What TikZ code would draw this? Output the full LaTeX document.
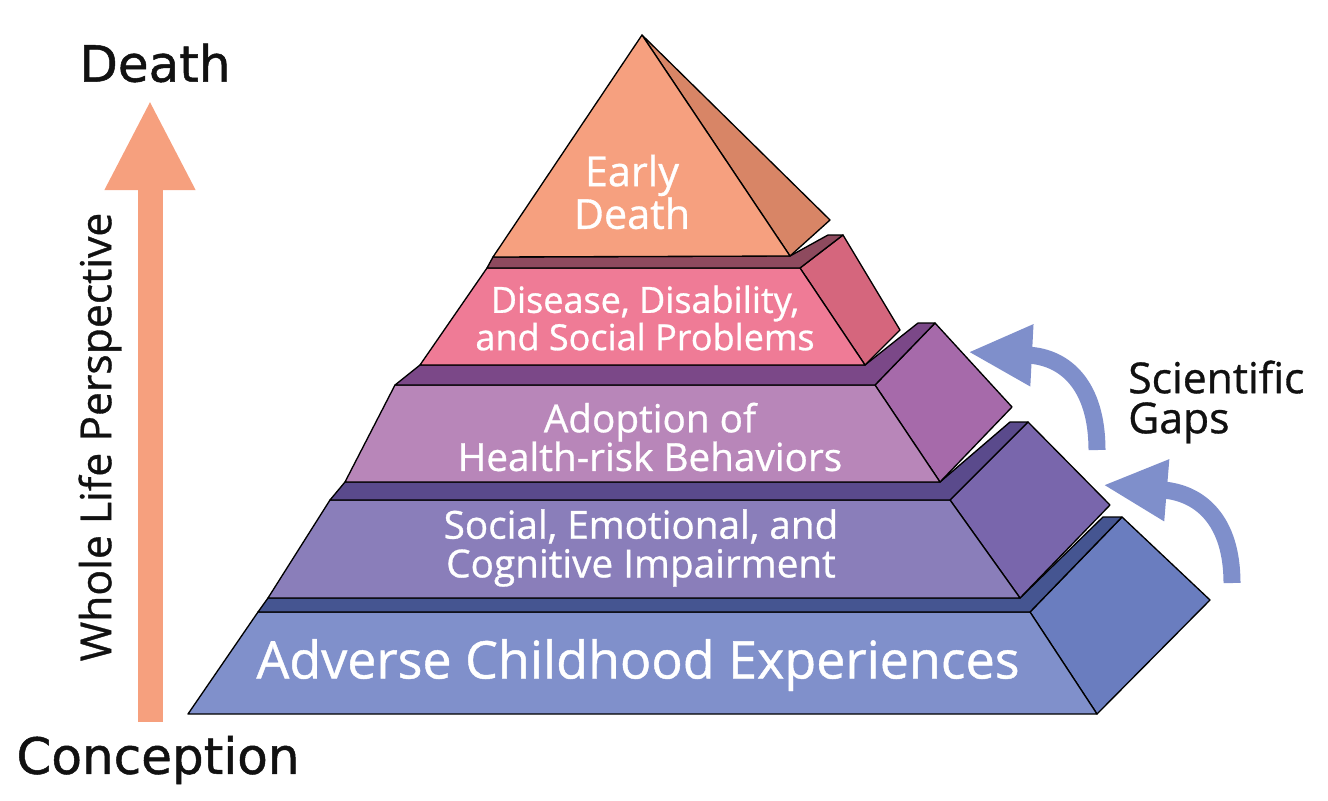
\documentclass[tikz,border=0pt]{standalone}
\usepackage{fontspec}
\setmainfont{Open Sans}
\newfontfamily\dejavu[FakeBold=1]{DejaVu Sans}
\newfontfamily\tierfont[FakeBold=0.8]{Open Sans}
\usetikzlibrary{arrows.meta}

\definecolor{aceFront}{HTML}{8090CB}
\definecolor{aceSide}{HTML}{6A7DBF}
\definecolor{aceTop}{HTML}{455591}
\definecolor{socFront}{HTML}{8A7EBA}
\definecolor{socSide}{HTML}{7966AC}
\definecolor{socTop}{HTML}{5A4A8C}
\definecolor{adoFront}{HTML}{B886B9}
\definecolor{adoSide}{HTML}{A66AAA}
\definecolor{adoTop}{HTML}{7B4888}
\definecolor{disFront}{HTML}{EF7B96}
\definecolor{disSide}{HTML}{D5667D}
\definecolor{disTop}{HTML}{8E4A5E}
\definecolor{edFront}{HTML}{F6A07F}
\definecolor{edSide}{HTML}{D88566}
\definecolor{lifeColor}{HTML}{F6A07E}
\definecolor{gapColor}{HTML}{7F8FCB}
\definecolor{inkColor}{HTML}{111111}

\begin{document}
\begin{tikzpicture}[
    x=0.75pt, y=-0.75pt,
    face/.style={draw=black, line width=1pt, line join=round},
    tiertext/.style={text=white, align=center, inner sep=0pt, font=\tierfont\fontsize{29}{29}\selectfont},
    sidelabel/.style={text=inkColor, inner sep=0pt, font=\dejavu\fontsize{37.5}{37.5}\selectfont},
    lifearrow/.style={draw=lifeColor, line width=18.75pt, -{Triangle[length=67.5pt, width=63pt]}},
    gaparrow/.style={draw=gapColor, line width=12.75pt, -{Triangle[length=48pt, width=43pt]}}
]
    \useasboundingbox (0,0) rectangle (1328,800);

    % left axis
    \node[sidelabel] (death) at (155,63) {Death};
    \node[sidelabel] (concep) at (158,760) {Conception};
    \coordinate (lifebot) at (150,722);
    \coordinate (lifetop) at (150,100);
    \draw[lifearrow] (lifebot) -- (lifetop);
    \node[rotate=90, text=inkColor, inner sep=0pt, font=\tierfont\fontsize{32}{32}\selectfont] (whole) at (100,437) {Whole Life Perspective};

    % bottom tier
    \path[face, fill=aceSide] (1030,612) -- (1122,517) -- (1210,600) -- (1097,714) -- cycle;
    \path[face, fill=aceFront] (258,612) -- (1030,612) -- (1097,714) -- (188,714) -- cycle;
    \path[face, fill=aceTop] (258,612) -- (1030,612) -- (1122,517) -- (1103,517) -- (1020,598) -- (268,598) -- cycle;

    % second tier
    \path[face, fill=socSide] (950,500) -- (1028,422) -- (1110,505) -- (1020,598) -- cycle;
    \path[face, fill=socFront] (330,500) -- (950,500) -- (1020,598) -- (268,598) -- cycle;
    \path[face, fill=socTop] (330,500) -- (950,500) -- (1028,422) -- (1010,422) -- (940,482) -- (345,482) -- cycle;

    % third tier
    \path[face, fill=adoSide] (875,385) -- (935,323) -- (1012,407) -- (940,482) -- cycle;
    \path[face, fill=adoFront] (395,385) -- (875,385) -- (940,482) -- (345,482) -- cycle;
    \path[face, fill=adoTop] (395,385) -- (875,385) -- (935,323) -- (918,323) -- (865,365) -- (420,365) -- cycle;

    % fourth tier
    \path[face, fill=disSide] (800,268) -- (843,235) -- (900,330) -- (865,365) -- cycle;
    \path[face, fill=disFront] (487,268) -- (800,268) -- (865,365) -- (420,365) -- cycle;
    \path[face, fill=disTop] (487,268) -- (800,268) -- (843,235) -- (828,235) -- (790,256) -- (493,257) -- cycle;

    % top
    \path[face, fill=edSide] (642,35) -- (830,220) -- (790,256) -- cycle;
    \path[face, fill=edFront] (642,35) -- (790,256) -- (493,257) -- cycle;

    % tier labels
    \node[tiertext, font=\tierfont\fontsize{39}{39}\selectfont] (ace) at (638,665) {Adverse Childhood Experiences};
    \node[tiertext] (social) at (641,548) {Social, Emotional, and\\Cognitive Impairment};
    \node[tiertext] (adopt) at (650,437) {Adoption of\\Health-risk Behaviors};
    \node[tiertext, font=\tierfont\fontsize{27}{28}\selectfont] (disease) at (645,318) {Disease, Disability,\\and Social Problems};
    \node[tiertext, font=\tierfont\fontsize{31}{29}\selectfont] (early) at (632,192) {Early\\Death};

    % scientific gaps
    \node[text=inkColor, align=left, inner sep=0pt, anchor=west, font=\tierfont\fontsize{32}{30}\selectfont] (gaps) at (1128,402) {Scientific\\Gaps};
    \coordinate (gapAbot) at (1097,450);
    \coordinate (gapAtip) at (968,352);
    \coordinate (gapBbot) at (1232,583);
    \coordinate (gapBtip) at (1103,485);
    \draw[gaparrow] (gapAbot) .. controls (1097,385) and (1065,357) .. (gapAtip);
    \draw[gaparrow] (gapBbot) .. controls (1232,520) and (1200,493) .. (gapBtip);
\end{tikzpicture}
\end{document}
